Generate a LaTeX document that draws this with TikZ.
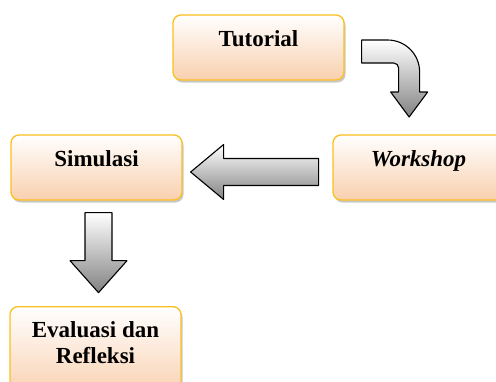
\documentclass[tikz,border=0pt]{standalone}
\usepackage{fontspec}
\setmainfont{Liberation Serif}
\usetikzlibrary{calc,shadows}

\definecolor{boxedge}{RGB}{250,192,30}
\definecolor{boxfill}{RGB}{249,208,174}
\definecolor{arrowlow}{RGB}{130,130,130}

\tikzset{
  stepbox/.style={draw=boxedge,line width=1.3pt,rounded corners=8pt,
    top color=white,bottom color=boxfill,
    drop shadow={shadow xshift=1.5pt,shadow yshift=-2.5pt,opacity=0.3,fill=black!70},
    minimum width=171pt,inner xsep=4pt,inner ysep=4pt,
    text height=27pt,text depth=30pt,
    font=\fontsize{23}{26}\selectfont\bfseries},
  blockarrow/.style={draw=black,line width=1.1pt,line join=round,
    top color=white,bottom color=arrowlow}
}

\begin{document}
\begin{tikzpicture}[x=1pt,y=1pt]
  \useasboundingbox (0,0) rectangle (496,-381);
  % boxes
  \node[stepbox] (tut) at (258.5,-47.5) {Tutorial};
  \node[stepbox] (sim) at (96.5,-167.5) {Simulasi};
  \node[stepbox,font=\fontsize{23}{26}\selectfont\bfseries\itshape] (work) at (418.5,-167.5) {Workshop};
  \node[stepbox,anchor=north,text depth=56pt] (eval) at (95.5,-306)
    {\begin{tabular}[t]{@{}c@{}}Evaluasi dan\\Refleksi\end{tabular}};
  % Tutorial -> Workshop (bent arrow)
  \coordinate (bstart) at ($(tut.east)+(17,-4)$);
  \draw[blockarrow] (bstart) ++(0,11.5) -- ++(26,0) arc[start angle=90,end angle=0,radius=32]
    -- ++(0,-20) -- ++(8,0) -- ++(-18.5,-25) -- ++(-18.5,25) -- ++(8,0) -- ++(0,24)
    arc[start angle=0,end angle=90,radius=5] -- ++(-32,0) -- cycle;
  % Workshop -> Simulasi
  \coordinate (ltip) at ($(sim.east)+(8,-4.5)$);
  \draw[blockarrow] (ltip) -- ++(33,27.5) -- ++(0,-14) -- ++(95,0) -- ++(0,-27)
    -- ++(-95,0) -- ++(0,-14) -- cycle;
  % Simulasi -> Evaluasi
  \coordinate (dtop) at ($(sim.south)+(2,-12)$);
  \draw[blockarrow] (dtop) ++(-13.5,0) -- ++(27,0) -- ++(0,-48) -- ++(15,0)
    -- ++(-28.5,-32) -- ++(-28.5,32) -- ++(15,0) -- cycle;
\end{tikzpicture}
\end{document}
